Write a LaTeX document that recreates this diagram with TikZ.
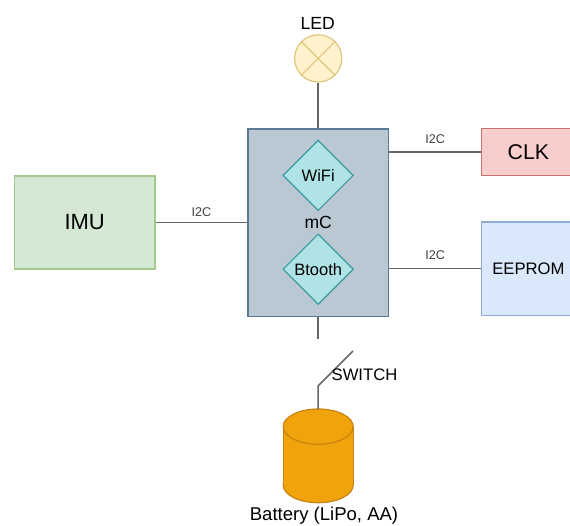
\documentclass[tikz,border=0pt]{standalone}
\usepackage{fontspec}
\setmainfont{Liberation Sans}
\usetikzlibrary{shapes.geometric}
\definecolor{wire}{HTML}{666666}
\definecolor{imuline}{HTML}{A3C98F}
\definecolor{imufill}{HTML}{D5E8D4}
\definecolor{mcline}{HTML}{5A7A95}
\definecolor{mcfill}{HTML}{BAC8D3}
\definecolor{chipline}{HTML}{3C9AA0}
\definecolor{chipfill}{HTML}{B0E3E6}
\definecolor{clkline}{HTML}{C9706C}
\definecolor{clkfill}{HTML}{F8CECC}
\definecolor{eepline}{HTML}{8FABD3}
\definecolor{eepfill}{HTML}{DAE8FC}
\definecolor{ledline}{HTML}{E0C67C}
\definecolor{ledfill}{HTML}{FFF2CC}
\definecolor{batline}{HTML}{C98310}
\definecolor{batfill}{HTML}{F0A30A}
\tikzset{
  box/.style={draw=#1, line width=0.9pt, rectangle, inner sep=0pt},
  chip/.style={diamond, draw=chipline, fill=chipfill, line width=0.9pt, inner sep=0pt,
    minimum width=52.9pt, minimum height=52.9pt, font=\fontsize{12.4pt}{14pt}\selectfont},
  wiring/.style={draw=wire, line width=1.15pt},
  lamp/.style={draw=ledline, line width=0.9pt},
  cell/.style={draw=batline, fill=batfill, line width=0.9pt},
  bus/.style={font=\fontsize{9.5pt}{11pt}\selectfont, text=black!75, inner sep=0pt}
}
\begin{document}
\begin{tikzpicture}[x=0.75pt, y=-0.75pt]
  \useasboundingbox (0,0) rectangle (570,525);
  \node[box=imuline, fill=imufill, minimum width=105.4pt, minimum height=69.8pt,
    font=\fontsize{16.5pt}{18pt}\selectfont] (imu) at (84.7,222.5) {IMU};
  \node[box=mcline, fill=mcfill, minimum width=105.4pt, minimum height=140.6pt,
    font=\fontsize{13.2pt}{15pt}\selectfont] (mc) at (318.2,222.7) {mC};
  \node[chip] (wifi) at (318.2,175.4) {WiFi};
  \node[chip] (btooth) at (318.2,269.2) {Btooth};
  \node[box=clkline, fill=clkfill, minimum width=70pt, minimum height=35.2pt,
    font=\fontsize{16pt}{18pt}\selectfont] (clk) at (528.4,152.2) {CLK};
  \node[box=eepline, fill=eepfill, minimum width=70pt, minimum height=70pt,
    font=\fontsize{12.5pt}{14pt}\selectfont] (eeprom) at (528.4,268.6) {EEPROM};
  \node[circle, lamp, fill=ledfill, minimum size=35.4pt, inner sep=0pt] (led) at (318.2,58.4) {};
  \node[font=\fontsize{13.2pt}{15pt}\selectfont] (ledtext) at (317.8,23.3) {LED};
  \draw[cell] (318.2,485.1) ellipse [x radius=35, y radius=17.6];
  \fill[batfill] (283.2,426.6) rectangle (353.2,485.1);
  \draw[cell] (283.2,426.6) -- (283.2,485.1);
  \draw[cell] (353.2,426.6) -- (353.2,485.1);
  \draw[cell] (318.2,426.6) ellipse [x radius=35, y radius=17.6];
  \coordinate (battop) at (318.2,409);
  \node[font=\fontsize{13.9pt}{16pt}\selectfont] (battext) at (324,515.5) {Battery (LiPo, AA)};
  \coordinate (swbreak) at (318.2,339);
  \coordinate (swfree) at (353,351);
  \coordinate (swpivot) at (318.2,385.7);
  \draw[lamp] (led.45) -- (led.225);
  \draw[lamp] (led.135) -- (led.315);
  \draw[wiring] (led) -- (mc);
  \draw[wiring] (imu) -- node[bus, above=4pt] (busimu) {I2C} (mc.west |- imu);
  \draw[wiring] (mc.east |- clk) -- node[bus, above=6pt] (busclk) {I2C} (clk);
  \draw[wiring] (mc.east |- eeprom) -- node[bus, above=6pt] (buseep) {I2C} (eeprom);
  \draw[wiring] (mc) -- (swbreak);
  \draw[wiring] (swfree) -- (swpivot) -- (battop);
  \node[font=\fontsize{12.5pt}{14pt}\selectfont] (swtext) at (364.5,374.3) {SWITCH};
\end{tikzpicture}
\end{document}
